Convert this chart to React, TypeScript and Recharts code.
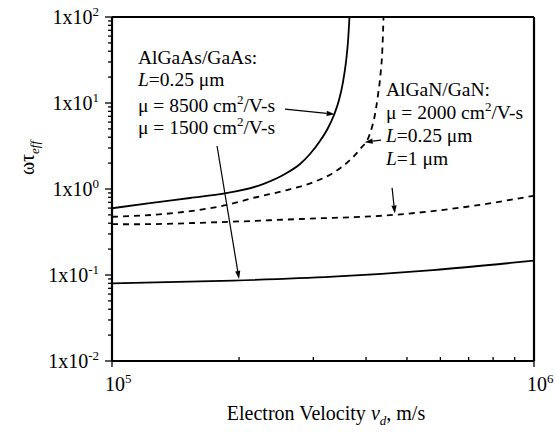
import React from 'react';
import { LineChart, Line, XAxis, YAxis, ReferenceLine } from 'recharts';

// AlGaAs/GaAs, mu = 8500 cm2/V-s (solid)
const gaas8500V = [1e5, 1.23e5, 1.53e5, 1.85e5, 2.28e5, 2.57e5, 2.79e5, 2.945e5, 3.111e5, 3.25e5, 3.358e5, 3.451e5, 3.527e5, 3.585e5, 3.624e5, 3.654e5];
const gaas8500W = [0.597, 0.687, 0.786, 0.887, 1.14, 1.494, 1.953, 2.553, 3.614, 5.12, 7.25, 10.84, 17.5, 30.0, 51.2, 100];
// AlGaAs/GaAs, mu = 1500 cm2/V-s (solid)
const gaas1500V = [1e5, 1.935e5, 3.34e5, 5.76e5, 1e6];
const gaas1500W = [0.08, 0.086, 0.0955, 0.114, 0.147];
// AlGaN/GaN, L = 0.25 um (dashed)
const gan025V = [1e5, 1.121e5, 1.473e5, 1.873e5, 2.159e5, 2.6e5, 3.0e5, 3.34e5, 3.664e5, 3.87e5, 4.085e5, 4.2e5, 4.27e5, 4.33e5, 4.37e5, 4.4e5];
const gan025W = [0.476, 0.485, 0.54, 0.652, 0.786, 0.973, 1.2, 1.535, 2.17, 2.9, 4.4, 7.4, 12.5, 22.0, 40.0, 100];
// AlGaN/GaN, L = 1 um (dashed)
const gan1V = [1e5, 1.121e5, 1.935e5, 2.79e5, 4.63e5, 6.94e5, 1e6];
const gan1W = [0.39, 0.389, 0.417, 0.448, 0.499, 0.622, 0.836];

const xMajorTicks = [1e5, 1e6];
const yMajorTicks = [0.01, 0.1, 1, 10, 100];
const minorMultipliers = [2, 3, 4, 5, 6, 7, 8, 9];

// annotation arrows: [from, to] in data units
const arrow8500 = [{ x: 2.57e5, y: 8.5 }, { x: 3.37e5, y: 7.4 }];
const arrow1500 = [{ x: 1.774e5, y: 3.16 }, { x: 2.0e5, y: 0.09 }];
const arrowL025 = [{ x: 4.34e5, y: 3.71 }, { x: 3.97e5, y: 3.5 }];
const arrowL1 = [{ x: 4.61e5, y: 1.03 }, { x: 4.68e5, y: 0.52 }];

const toRows = (vs: number[], ws: number[]) => vs.map((v, i) => ({ v, w: ws[i] }));

const xTicks = [...xMajorTicks, ...minorMultipliers.map((m) => m * 1e5)].sort((a, b) => a - b);
const yTicks = [
  ...yMajorTicks,
  ...yMajorTicks.slice(0, -1).flatMap((d) => minorMultipliers.map((m) => m * d)),
].sort((a, b) => a - b);

const FONT = 'Liberation Serif, Tinos, DejaVu Serif, serif';
const fontStyle = { fontFamily: FONT };

const isMajor = (v: number) => Math.abs(Math.log10(v) - Math.round(Math.log10(v))) < 1e-6;

const YTick = (props: any) => {
  const { x, y, payload } = props;
  const v = payload.value;
  const major = isMajor(v);
  const exp = Math.round(Math.log10(v));
  return (
    <g>
      <line x1={x} x2={x - (major ? 7 : 4)} y1={y} y2={y} stroke="#000" strokeWidth={1.3} />
      {major && (
        <text x={x - 13} y={y + 7} textAnchor="end" style={fontStyle} fontSize={20} fill="#000">
          1x10
          <tspan dy={-8} fontSize={13}>{exp}</tspan>
        </text>
      )}
    </g>
  );
};

const XTick = (props: any) => {
  const { x, y, payload } = props;
  const v = payload.value;
  const major = isMajor(v);
  const exp = Math.round(Math.log10(v));
  return (
    <g>
      <line x1={x} x2={x} y1={y} y2={major ? y + 6 : y - 4} stroke="#000" strokeWidth={1.3} />
      {major && (
        <text x={x - 7} y={y + 30} textAnchor="start" style={fontStyle} fontSize={20} fill="#000">
          10
          <tspan dy={-8} fontSize={13}>{exp}</tspan>
        </text>
      )}
    </g>
  );
};

const Arrow = (props: any) => {
  const { x1, y1, x2, y2 } = props;
  if ([x1, y1, x2, y2].some((n) => typeof n !== 'number' || isNaN(n))) return null;
  const ang = Math.atan2(y2 - y1, x2 - x1);
  const len = 8;
  const half = 2.6;
  const bx = x2 - len * Math.cos(ang);
  const by = y2 - len * Math.sin(ang);
  const px = -Math.sin(ang) * half;
  const py = Math.cos(ang) * half;
  return (
    <g>
      <line x1={x1} y1={y1} x2={bx} y2={by} stroke="#000" strokeWidth={1.2} />
      <polygon points={`${x2},${y2} ${bx + px},${by + py} ${bx - px},${by - py}`} fill="#000" />
    </g>
  );
};

const Sup = ({ children }: any) => (
  <tspan dy={-8} fontSize={13}>{children}</tspan>
);

const Label = ({ x, y, children }: any) => (
  <text x={x} y={y} style={fontStyle} fontSize={19.5} fill="#000">{children}</text>
);

export default function App() {
  return (
    <div style={{ position: 'absolute', left: 0, top: 0, width: 555, height: 434, background: '#fff' }}>
      <LineChart width={555} height={434} margin={{ top: 17, right: 21, bottom: 0, left: 0 }}>
        <XAxis
          type="number"
          dataKey="v"
          scale="log"
          domain={[1e5, 1e6]}
          ticks={xTicks}
          interval={0}
          allowDataOverflow
          height={73}
          tickSize={0}
          tickMargin={0}
          tickLine={false}
          tick={<XTick />}
          axisLine={{ stroke: '#000', strokeWidth: 2.2 }}
        />
        <YAxis
          type="number"
          dataKey="w"
          scale="log"
          domain={[0.01, 100]}
          ticks={yTicks}
          interval={0}
          allowDataOverflow
          width={112}
          tickSize={0}
          tickMargin={0}
          tickLine={false}
          tick={<YTick />}
          axisLine={{ stroke: '#000', strokeWidth: 2.2 }}
        />
        <ReferenceLine y={100} stroke="#000" strokeWidth={2.2} />
        <ReferenceLine x={1e6} stroke="#000" strokeWidth={2.2} />
        <Line data={toRows(gaas8500V, gaas8500W)} dataKey="w" type="monotone" stroke="#000" strokeWidth={1.8} dot={false} isAnimationActive={false} />
        <Line data={toRows(gaas1500V, gaas1500W)} dataKey="w" type="monotone" stroke="#000" strokeWidth={1.8} dot={false} isAnimationActive={false} />
        <Line data={toRows(gan025V, gan025W)} dataKey="w" type="monotone" stroke="#000" strokeWidth={1.8} strokeDasharray="6 5" dot={false} isAnimationActive={false} />
        <Line data={toRows(gan1V, gan1W)} dataKey="w" type="monotone" stroke="#000" strokeWidth={1.8} strokeDasharray="6 5" dot={false} isAnimationActive={false} />
        <ReferenceLine segment={arrow8500} shape={<Arrow />} ifOverflow="visible" />
        <ReferenceLine segment={arrow1500} shape={<Arrow />} ifOverflow="visible" />
        <ReferenceLine segment={arrowL025} shape={<Arrow />} ifOverflow="visible" />
        <ReferenceLine segment={arrowL1} shape={<Arrow />} ifOverflow="visible" />
      </LineChart>
      <svg width={555} height={434} style={{ position: 'absolute', left: 0, top: 0, pointerEvents: 'none' }}>
        <Label x={138} y={64}>AlGaAs/GaAs:</Label>
        <Label x={138} y={86}><tspan fontStyle="italic">L</tspan>=0.25 μm</Label>
        <Label x={138} y={112}>μ = 8500 cm<Sup>2</Sup><tspan dy={8}>/V-s</tspan></Label>
        <Label x={138} y={134}>μ = 1500 cm<Sup>2</Sup><tspan dy={8}>/V-s</tspan></Label>
        <Label x={386} y={96}>AlGaN/GaN:</Label>
        <Label x={386} y={119}>μ = 2000 cm<Sup>2</Sup><tspan dy={8}>/V-s</tspan></Label>
        <Label x={386} y={142}><tspan fontStyle="italic">L</tspan>=0.25 μm</Label>
        <Label x={386} y={165}><tspan fontStyle="italic">L</tspan>=1 μm</Label>
        <text x={326} y={420} textAnchor="middle" style={fontStyle} fontSize={20} fill="#000">
          Electron Velocity <tspan fontStyle="italic">v</tspan>
          <tspan dy={5} fontSize={13} fontStyle="italic">d</tspan>
          <tspan dy={-5}>, m/s</tspan>
        </text>
        <text
          transform="translate(34,158) rotate(-90)"
          textAnchor="middle"
          style={fontStyle}
          fontSize={20}
          fill="#000"
        >
          ωτ<tspan dy={5} fontSize={13} fontStyle="italic">eff</tspan>
        </text>
      </svg>
    </div>
  );
}
